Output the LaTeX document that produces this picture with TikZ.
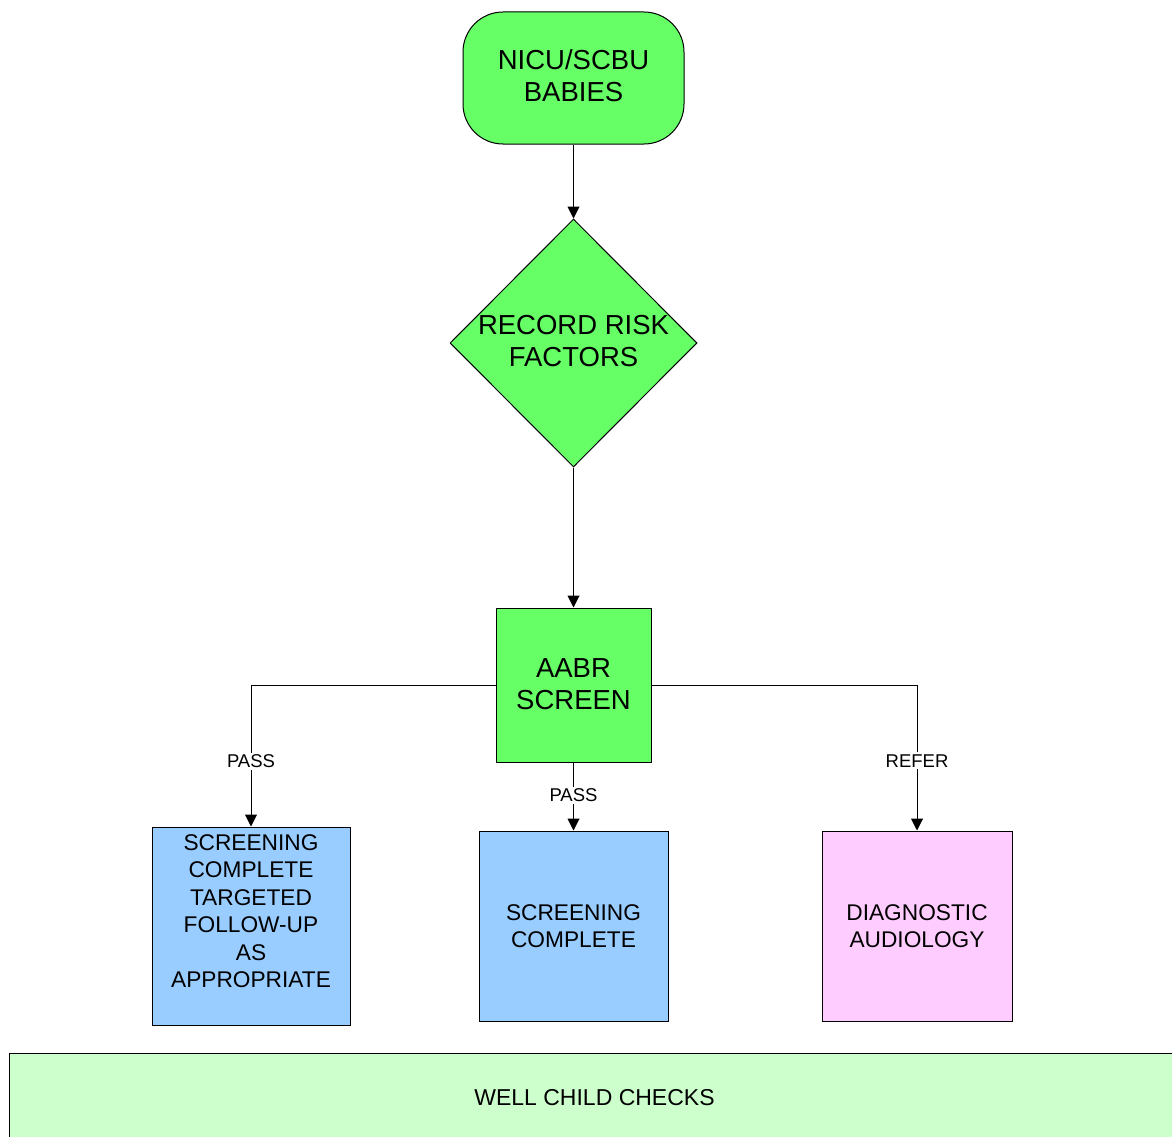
\documentclass[tikz,border=0pt]{standalone}
\usepackage{fontspec}
\setmainfont{Liberation Sans}
\usetikzlibrary{shapes.geometric,arrows.meta}
\definecolor{brightgreen}{HTML}{66FF66}
\definecolor{skyblue}{HTML}{99CCFF}
\definecolor{palepink}{HTML}{FFCCFF}
\definecolor{palegreen}{HTML}{CCFFCC}
\begin{document}
\begin{tikzpicture}[x=1pt,y=-1pt,
  box/.style={draw=black, line width=1pt, inner sep=0pt, align=center},
  big/.style={font=\fontsize{27.5}{32}\selectfont},
  mid/.style={font=\fontsize{22.7}{27.5}\selectfont},
  lbl/.style={fill=white, inner sep=2pt, font=\fontsize{18.5}{22}\selectfont},
  flow/.style={line width=1pt, -{Triangle[width=12pt,length=12pt]}}]
\useasboundingbox (0,0) rectangle (1172,1137);

% start terminal
\node[box, fill=brightgreen, rounded corners=40pt,
      minimum width=221pt, minimum height=132pt,
      label={[big, align=center, yshift=2pt]center:NICU/SCBU\\BABIES}]
  (nicu) at (573.5,78) {};

% decision
\node[box, fill=brightgreen, diamond, minimum width=247pt, minimum height=248pt,
      label={[big, align=center, yshift=2pt]center:RECORD RISK\\FACTORS}]
  (risk) at (573.5,343) {};

% screening step
\node[box, fill=brightgreen, minimum width=155pt, minimum height=154pt,
      label={[big, align=center, yshift=1pt]center:AABR\\SCREEN}]
  (aabr) at (573.5,685) {};

% outcomes
\node[box, fill=skyblue, minimum width=198pt, minimum height=198pt,
      label={[mid, align=center, yshift=15pt]center:SCREENING\\COMPLETE\\TARGETED\\FOLLOW-UP\\AS\\APPROPRIATE}]
  (targeted) at (251,926) {};
\node[box, mid, fill=skyblue, minimum width=189pt, minimum height=190pt]
  (complete) at (573.5,926) {SCREENING\\COMPLETE};
\node[box, mid, fill=palepink, minimum width=190pt, minimum height=190pt]
  (diag) at (917,926) {DIAGNOSTIC\\AUDIOLOGY};

% bottom band
\node[box, fill=palegreen, minimum width=1171pt, minimum height=92pt,
      label={[font=\fontsize{23}{27}\selectfont, yshift=1pt]center:WELL CHILD CHECKS}]
  (well) at (594.5,1099) {};

% connectors
\draw[flow] (nicu) -- (risk);
\draw[flow] (risk) -- (aabr);
\draw[flow] (aabr.west) -| node[lbl, pos=0.77] {PASS} (targeted.north);
\draw[flow] (aabr.south) -- node[lbl, pos=0.48] {PASS} (complete.north);
\draw[flow] (aabr.east) -| node[lbl, pos=0.76] {REFER} (diag.north);
\end{tikzpicture}
\end{document}
